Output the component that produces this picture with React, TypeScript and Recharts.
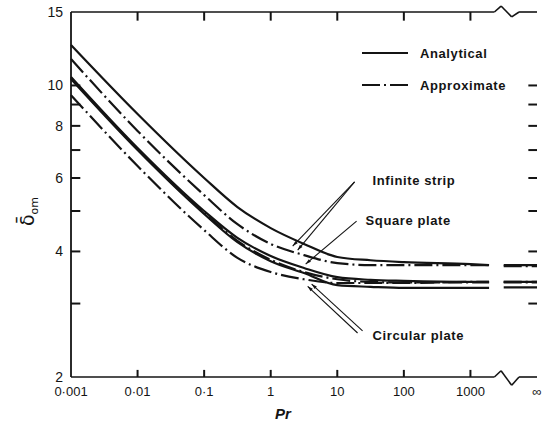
import React from "react"
import { LineChart, Line, XAxis, YAxis, ReferenceLine, ReferenceDot, Legend } from "recharts"

// x is log10(Pr); 4 stands for Pr = infinity (after the axis break)
const logPr = [-3, -2, -1, -0.5, 0, 0.5, 1, 1.5, 2, 3, 3.28, 3.4, 3.5, 4]
const stripAnalytical = [12.5, 8.54, 6.0, 5.11, 4.55, 4.17, 3.88, 3.81, 3.77, 3.73, 3.71, null, 3.71, 3.71]
const stripApprox = [11.57, 7.78, 5.46, 4.65, 4.17, 3.92, 3.75, 3.71, 3.71, 3.71, 3.71, null, 3.69, 3.69]
const squareAnalytical = [10.48, 7.08, 5.0, 4.31, 3.9, 3.65, 3.47, 3.42, 3.4, 3.38, 3.38, null, 3.38, 3.38]
const squareApprox = [10.42, 7.04, 4.95, 4.24, 3.82, 3.57, 3.43, 3.38, 3.37, 3.37, 3.37, null, 3.37, 3.37]
const circularAnalytical = [10.36, 7.0, 4.92, 4.21, 3.79, 3.55, 3.32, 3.29, 3.27, 3.27, 3.27, null, 3.28, 3.28]
const circularApprox = [9.48, 6.41, 4.5, 3.86, 3.57, 3.43, 3.36, 3.36, 3.36, 3.38, 3.38, null, 3.38, 3.38]

const xTicks = [-3, -2, -1, 0, 1, 2, 3, 4]
const xTickLabels = ["0·001", "0·01", "0·1", "1", "10", "100", "1000", "∞"]
const innerXTicks = [-2, -1, 0, 1, 2, 3]
const yTicks = [2, 3, 4, 5, 6, 7, 8, 9, 10, 15]
const yLabelled = [2, 4, 6, 8, 10, 15]
const innerYTicks = [3, 4, 5, 6, 7, 8, 9, 10]

// frame with the axis break zigzag
const frameBottom = [[-3, 2], [3.36, 2], [3.46, 2.07], [3.62, 1.91], [3.73, 2], [4, 2]]
const frameTop = [[-3, 15], [3.36, 15], [3.46, 15.5], [3.62, 14.6], [3.73, 15], [4, 15]]

// annotation arrows [tail, tip] in data units
const arrows = [
  [[1.26, 5.87], [0.33, 4.12]],
  [[1.26, 5.87], [0.405, 4.03]],
  [[1.29, 4.73], [0.525, 3.73]],
  [[1.305, 2.55], [0.555, 3.3]],
  [[1.38, 2.58], [0.615, 3.34]],
]
const notes = [
  { x: 1.515, y: 5.93, text: "Infinite strip" },
  { x: 1.41, y: 4.76, text: "Square plate" },
  { x: 1.515, y: 2.51, text: "Circular plate" },
]

const DASH = "18 4 2 4"
const INK = "#141414"
const FONT = "'Liberation Sans', Arial, sans-serif"

const legendItems = [
  { label: "Analytical", dash: undefined as string | undefined },
  { label: "Approximate", dash: DASH },
]

const rows = logPr.map((x, i) => ({
  x,
  stripAnalytical: stripAnalytical[i],
  stripApprox: stripApprox[i],
  squareAnalytical: squareAnalytical[i],
  squareApprox: squareApprox[i],
  circularAnalytical: circularAnalytical[i],
  circularApprox: circularApprox[i],
}))

const series = [
  { key: "stripAnalytical", dash: undefined },
  { key: "stripApprox", dash: DASH },
  { key: "squareAnalytical", dash: undefined },
  { key: "squareApprox", dash: DASH },
  { key: "circularAnalytical", dash: undefined },
  { key: "circularApprox", dash: DASH },
]

// inward tick marks, as short segments in data units
const tickMarks: { a: number[]; b: number[] }[] = [
  ...innerXTicks.map((x) => ({ a: [x, 2], b: [x, 2.08] })),
  ...innerXTicks.map((x) => ({ a: [x, 15], b: [x, 14.3] })),
  ...innerYTicks.map((y) => ({ a: [-3, y], b: [-2.86, y] })),
  ...innerYTicks.map((y) => ({ a: [4, y], b: [3.87, y] })),
]

const BottomTick = (p: any) => (
  <text x={p.x} y={p.y + 11} textAnchor="middle" fontSize={13} fill={INK} fontFamily={FONT}>
    {xTickLabels[xTicks.indexOf(p.payload.value)]}
  </text>
)
const LeftTick = (p: any) =>
  yLabelled.includes(p.payload.value) ? (
    <text x={p.x} y={p.y + 5} textAnchor="end" fontSize={14} fill={INK} fontFamily={FONT}>
      {p.payload.value}
    </text>
  ) : (
    <g />
  )

function seg(a: number[], b: number[], key: string, width = 1.6) {
  return (
    <ReferenceLine
      key={key}
      xAxisId="bottom"
      yAxisId="left"
      segment={[{ x: a[0], y: a[1] }, { x: b[0], y: b[1] }]}
      stroke={INK}
      strokeWidth={width}
      ifOverflow="visible"
    />
  )
}

export default function App() {
  return (
    <div style={{ fontFamily: FONT }}>
      <style>{"body{margin:0}"}</style>
      <LineChart width={555} height={422} data={rows} margin={{ top: 12, right: 18, bottom: 0, left: 0 }}>
        <defs>
          <marker id="arr" viewBox="0 0 10 10" refX="10" refY="5" markerWidth="9" markerHeight="5" orient="auto">
            <path d="M0,2 L10,5 L0,8 z" fill={INK} />
          </marker>
        </defs>
        <XAxis
          xAxisId="bottom"
          type="number"
          dataKey="x"
          domain={[-3, 4]}
          ticks={xTicks}
          height={45}
          axisLine={false}
          tickLine={false}
          tickSize={0}
          tickMargin={8}
          tick={BottomTick}
          interval={0}
          label={{
            content: () => (
              <text x={283} y={419} textAnchor="middle" fontSize={15} fontWeight="bold" fontStyle="italic" fill={INK} fontFamily={FONT}>
                Pr
              </text>
            ),
          }}
        />
        <YAxis
          yAxisId="left"
          type="number"
          scale="log"
          domain={[2, 15]}
          allowDataOverflow
          ticks={yTicks}
          interval={0}
          width={71}
          axisLine={{ stroke: INK, strokeWidth: 1.8 }}
          tickLine={false}
          tickSize={0}
          tickMargin={8}
          tick={LeftTick}
          label={{
            content: () => (
              <text transform="translate(34,226) rotate(-90)" fill={INK} fontFamily="'DejaVu Sans', sans-serif">
                <tspan fontSize={19}>δ̄</tspan>
                <tspan fontSize={11} dy={4}>om</tspan>
              </text>
            ),
          }}
        />
        <YAxis
          yAxisId="right"
          orientation="right"
          type="number"
          scale="log"
          domain={[2, 15]}
          allowDataOverflow
          width={0}
          axisLine={{ stroke: INK, strokeWidth: 1.8 }}
          tickLine={false}
          tick={false}
        />
        <Legend
          layout="horizontal"
          verticalAlign="middle"
          align="center"
          wrapperStyle={{ top: 37, left: 362, width: 180 }}
          content={() => (
            <div>
              {legendItems.map((it) => (
                <div key={it.label} style={{ display: "flex", alignItems: "center", height: 32 }}>
                  <svg width={46} height={6}>
                    <line x1={0} y1={3} x2={46} y2={3} stroke={INK} strokeWidth={2} strokeDasharray={it.dash} />
                  </svg>
                  <span style={{ marginLeft: 12, fontSize: 13, fontWeight: "bold", color: INK, letterSpacing: 0.6 }}>
                    {it.label}
                  </span>
                </div>
              ))}
            </div>
          )}
        />
        {series.map((s) => (
          <Line
            key={s.key}
            xAxisId="bottom"
            yAxisId="left"
            type="monotone"
            dataKey={s.key}
            stroke={INK}
            strokeWidth={2.2}
            strokeDasharray={s.dash}
            dot={false}
            activeDot={false}
            isAnimationActive={false}
          />
        ))}
        {frameBottom.slice(1).map((p, i) => seg(frameBottom[i], p, `fb-${i}`))}
        {frameTop.slice(1).map((p, i) => seg(frameTop[i], p, `ft-${i}`))}
        {tickMarks.map((t, i) => seg(t.a, t.b, `tk-${i}`, 2))}
        {arrows.map((a, i) => (
          <ReferenceLine
            key={`arrow-${i}`}
            xAxisId="bottom"
            yAxisId="left"
            segment={[{ x: a[0][0], y: a[0][1] }, { x: a[1][0], y: a[1][1] }]}
            stroke={INK}
            strokeWidth={1.1}
            markerEnd="url(#arr)"
            ifOverflow="visible"
          />
        ))}
        {notes.map((n) => (
          <ReferenceDot
            key={n.text}
            xAxisId="bottom"
            yAxisId="left"
            x={n.x}
            y={n.y}
            r={1}
            fill="none"
            stroke="none"
            ifOverflow="visible"
            label={{
              value: n.text,
              position: "right",
              offset: 0,
              fontSize: 13,
              fontWeight: "bold",
              fill: INK,
              fontFamily: FONT,
              letterSpacing: 0.6,
            }}
          />
        ))}
      </LineChart>
    </div>
  )
}
